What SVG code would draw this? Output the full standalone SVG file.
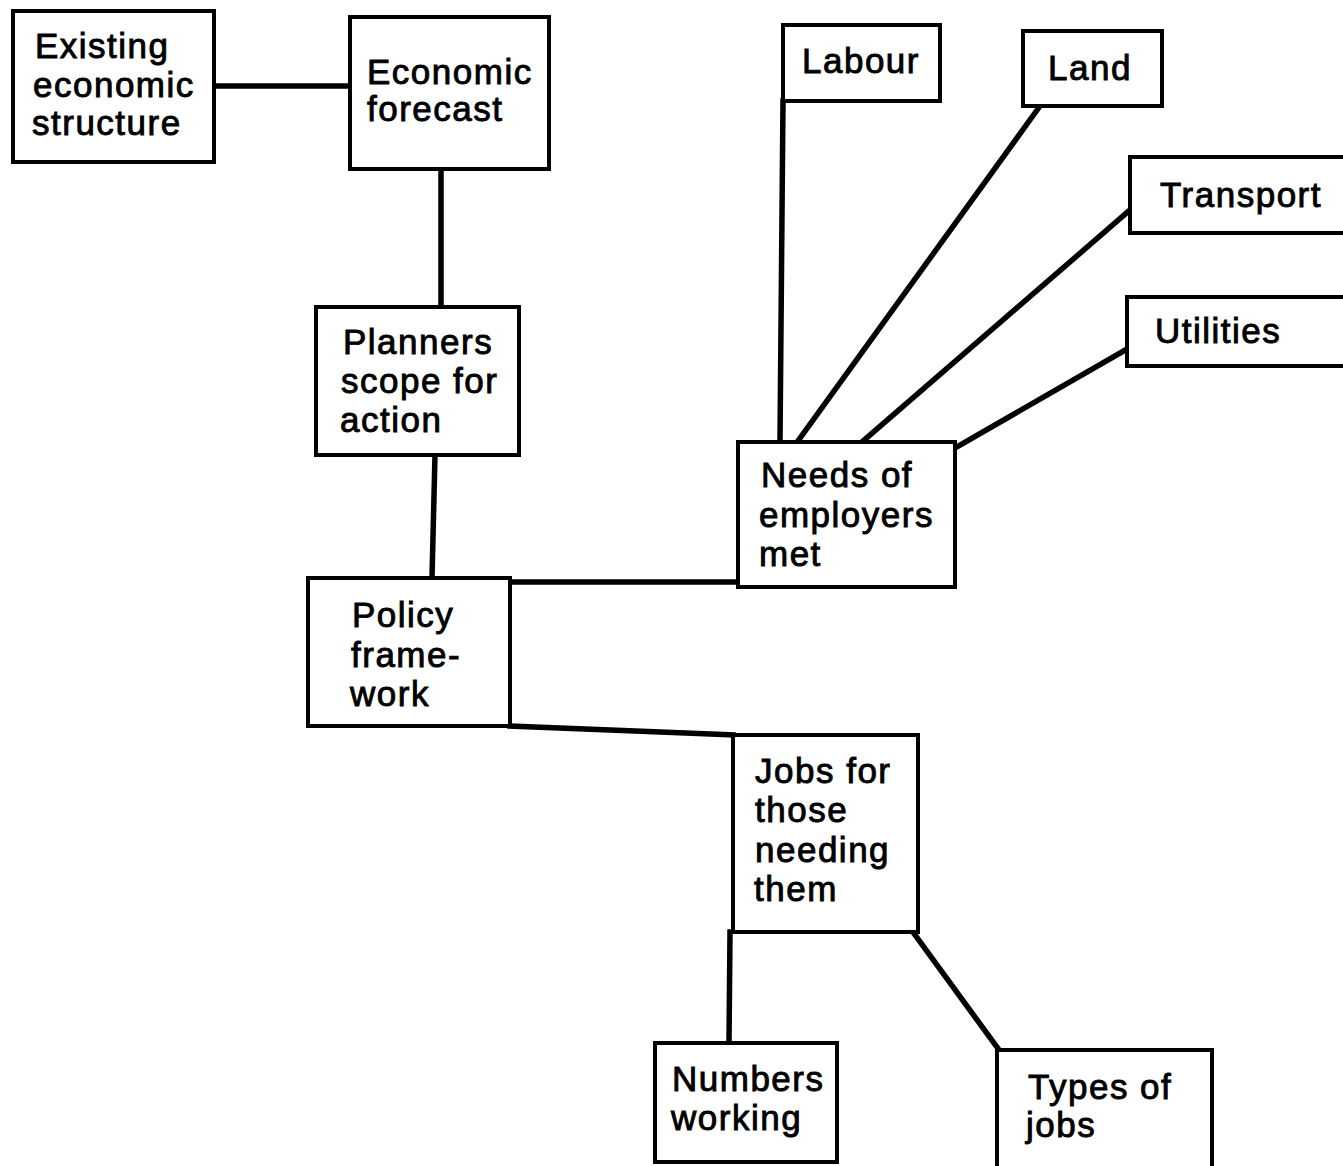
<svg xmlns="http://www.w3.org/2000/svg" width="1343" height="1166" viewBox="0 0 1343 1166">
  <style>
    .box { fill: #fff; stroke: #000; stroke-width: 4; }
    .lbl { font-family: "Liberation Sans", Arial, sans-serif; font-size: 35px; letter-spacing: 1.5px; fill: #000; stroke: #000; stroke-width: 0.9; }
    .edge { fill: none; stroke: #000; stroke-width: 5.5; stroke-linecap: square; }
  </style>
  <rect width="1343" height="1166" fill="#fff"/>

  <!-- connectors -->
  <g id="connectors">
    <line class="edge" x1="214" y1="86" x2="350" y2="86"/>
    <line class="edge" x1="441" y1="169" x2="441" y2="307"/>
    <line class="edge" x1="435" y1="455" x2="432" y2="578"/>
    <line class="edge" x1="510" y1="582" x2="738" y2="582"/>
    <line class="edge" x1="510" y1="726" x2="733" y2="735"/>
    <line class="edge" x1="730" y1="932" x2="729" y2="1043"/>
    <line class="edge" x1="913" y1="932" x2="999" y2="1050"/>
    <line class="edge" x1="783" y1="101" x2="780" y2="441"/>
    <line class="edge" x1="1040" y1="106" x2="798" y2="441"/>
    <line class="edge" x1="1130" y1="210" x2="863" y2="441"/>
    <line class="edge" x1="1127" y1="349" x2="955" y2="448"/>
  </g>

  <!-- nodes -->
  <g id="existing-economic-structure">
    <rect class="box" x="13" y="11" width="201" height="151"/>
    <text class="lbl" x="35" y="58">Existing</text>
    <text class="lbl" x="33" y="97">economic</text>
    <text class="lbl" x="32" y="135">structure</text>
  </g>
  <g id="economic-forecast">
    <rect class="box" x="350" y="17" width="199" height="152"/>
    <text class="lbl" x="367" y="84">Economic</text>
    <text class="lbl" x="367" y="121">forecast</text>
  </g>
  <g id="planners-scope">
    <rect class="box" x="316" y="307" width="203" height="148"/>
    <text class="lbl" x="343" y="354">Planners</text>
    <text class="lbl" x="341" y="393">scope for</text>
    <text class="lbl" x="340" y="432">action</text>
  </g>
  <g id="policy-framework">
    <rect class="box" x="308" y="578" width="202" height="148"/>
    <text class="lbl" x="352" y="627">Policy</text>
    <text class="lbl" x="351" y="667">frame-</text>
    <text class="lbl" x="350" y="706">work</text>
  </g>
  <g id="needs-of-employers">
    <rect class="box" x="738" y="442" width="217" height="145"/>
    <text class="lbl" x="761" y="487">Needs of</text>
    <text class="lbl" x="759" y="527">employers</text>
    <text class="lbl" x="759" y="566">met</text>
  </g>
  <g id="jobs-for-those">
    <rect class="box" x="733" y="735" width="185" height="197"/>
    <text class="lbl" x="755" y="783">Jobs for</text>
    <text class="lbl" x="755" y="822">those</text>
    <text class="lbl" x="755" y="862">needing</text>
    <text class="lbl" x="754" y="901">them</text>
  </g>
  <g id="numbers-working">
    <rect class="box" x="655" y="1043" width="182" height="119"/>
    <text class="lbl" x="672" y="1091">Numbers</text>
    <text class="lbl" x="671" y="1130">working</text>
  </g>
  <g id="types-of-jobs">
    <rect class="box" x="997" y="1050" width="215" height="120"/>
    <text class="lbl" x="1028" y="1099">Types of</text>
    <text class="lbl" x="1026" y="1137">jobs</text>
  </g>
  <g id="labour">
    <rect class="box" x="783" y="25" width="157" height="76"/>
    <text class="lbl" x="802" y="73">Labour</text>
  </g>
  <g id="land">
    <rect class="box" x="1023" y="31" width="139" height="75"/>
    <text class="lbl" x="1048" y="80">Land</text>
  </g>
  <g id="transport">
    <rect class="box" x="1130" y="157" width="220" height="76"/>
    <text class="lbl" x="1160" y="207">Transport</text>
  </g>
  <g id="utilities">
    <rect class="box" x="1127" y="297" width="223" height="69"/>
    <text class="lbl" x="1155" y="343">Utilities</text>
  </g>
</svg>
